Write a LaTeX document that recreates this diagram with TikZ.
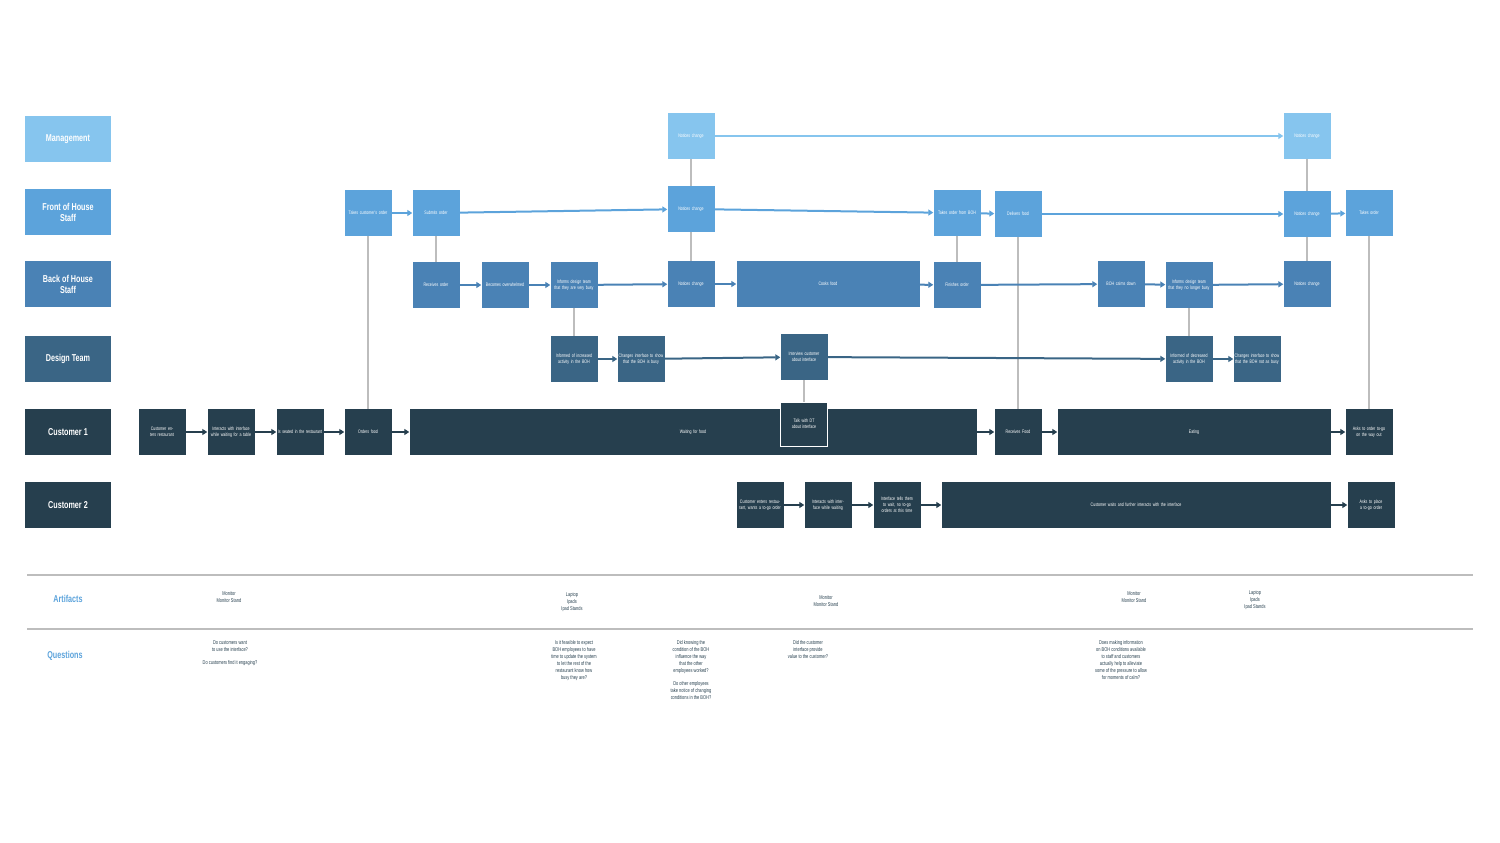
\documentclass[tikz,border=0pt]{standalone}
\usepackage{fontspec}
\setmainfont{Liberation Sans}[FakeStretch=0.72]
\usetikzlibrary{arrows.meta}
\definecolor{cM}{HTML}{86C5EE}
\definecolor{cF}{HTML}{5CA3DB}
\definecolor{cB}{HTML}{4A82B5}
\definecolor{cD}{HTML}{3A6585}
\definecolor{cC}{HTML}{263F4E}
\definecolor{cG}{HTML}{BDBDBD}
\begin{document}
\begin{tikzpicture}[x=1pt,y=-1pt,
 lab/.style={minimum width=86pt,minimum height=46pt,inner sep=1pt,align=center,text=white,font=\fontsize{10}{11}\selectfont\bfseries},
 b/.style={minimum width=47pt,minimum height=46pt,inner sep=1pt,text width=45pt,align=center,text=white,font=\fontsize{5}{6}\selectfont},
 M/.style={b,fill=cM}, F/.style={b,fill=cF}, B/.style={b,fill=cB}, D/.style={b,fill=cD}, C/.style={b,fill=cC},
 ar/.style={line width=2pt,-{Triangle[length=5pt,width=6pt]}},
 g/.style={cG,line width=2pt},
 sec/.style={text=cF,font=\fontsize{10}{11}\selectfont\bfseries},
 note/.style={align=center,text=cC,font=\fontsize{5.5}{7}\selectfont}]
\useasboundingbox (0,0) rectangle (1500,843);
% lane labels
\node[lab,fill=cM] (lM) at (68,139) {Management};
\node[lab,fill=cF] (lF) at (68,212) {Front of House\\Staff};
\node[lab,fill=cB] (lB) at (68,284) {Back of House\\Staff};
\node[lab,fill=cD] (lD) at (68,359) {Design Team};
\node[lab,fill=cC] (lC1) at (68,432) {Customer 1};
\node[lab,fill=cC] (lC2) at (68,505) {Customer 2};
% gray links (behind)
\coordinate (gA) at (368,213); \coordinate (gA2) at (368,432);
\draw[g] (gA) -- (gA2);
\draw[g] (436,213) -- (436,285);
\draw[g] (691,136) -- (691,284);
\draw[g] (574,285) -- (574,359);
\draw[g] (957,213) -- (957,285);
\draw[g] (1018,214) -- (1018,432);
\draw[g] (804,357) -- (804,424);
\draw[g] (1189,285) -- (1189,359);
\draw[g] (1307,136) -- (1307,284);
\draw[g] (1369,213) -- (1369,432);
% management
\node[M] (m1) at (691,136) {Notices change};
\node[M] (m2) at (1307,136) {Notices change};
% FOH
\node[F] (f1) at (368,213) {Takes customer's order};
\node[F] (f2) at (436,213) {Submits order};
\node[F] (f3) at (691,209) {Notices change};
\node[F] (f4) at (957,213) {Takes order from BOH};
\node[F] (f5) at (1018,214) {Delivers food};
\node[F] (f6) at (1307,214) {Notices change};
\node[F] (f7) at (1369,213) {Takes order};
% BOH
\node[B] (b1) at (436,285) {Receives order};
\node[B] (b2) at (505,285) {Becomes overwhelmed};
\node[B] (b3) at (574,285) {Informs design team that they are very busy};
\node[B] (b4) at (691,284) {Notices change};
\node[B,minimum width=183pt,text width=180pt] (b5) at (828,284) {Cooks food};
\node[B] (b6) at (957,285) {Finishes order};
\node[B] (b7) at (1121,284) {BOH calms down};
\node[B] (b8) at (1189,285) {Informs design team that they no longer busy};
\node[B] (b9) at (1307,284) {Notices change};
% Design
\node[D] (d1) at (574,359) {Informed of increased activity in the BOH};
\node[D] (d2) at (641,359) {Changes interface to show that the BOH is busy};
\node[D] (d3) at (804,357) {Interview customer about interface};
\node[D] (d4) at (1189,359) {Informed of decreased activity in the BOH};
\node[D] (d5) at (1257,359) {Changes interface to show that the BOH not as busy};
% Customer 1
\node[C] (c1) at (162,432) {Customer enters restaurant};
\node[C] (c2) at (231,432) {Interacts with interface while waiting for a table};
\node[C] (c3) at (300,432) {Is seated in the restaurant};
\node[C] (c4) at (368,432) {Orders food};
\node[C,minimum width=567pt,text width=560pt] (c5) at (693,432) {Waiting for food};
\node[C,draw=white,line width=1pt,minimum width=46pt,minimum height=44pt] (c6) at (804,424) {Talk with DT about interface};
\node[C] (c7) at (1018,432) {Receives Food};
\node[C,minimum width=273pt,text width=270pt] (c8) at (1194,432) {Eating};
\node[C] (c9) at (1369,432) {Asks to order to-go on the way out};
% Customer 2
\node[C] (e1) at (760,505) {Customer enters restaurant, wants a to-go order};
\node[C] (e2) at (828,505) {Interacts with interface while waiting};
\node[C] (e3) at (897,505) {Interface tells them to wait, no to-go orders at this time};
\node[C,minimum width=389pt,text width=380pt] (e4) at (1136,505) {Customer waits and further interacts with the interface};
\node[C] (e5) at (1371,505) {Asks to place a to-go order};
% arrows
\draw[ar,cM] (m1) -- (m2);
\draw[ar,cF] (f1) -- (f2);
\draw[ar,cF] (f2) -- (f3);
\draw[ar,cF] (f3) -- (f4);
\draw[ar,cF] (f4) -- (f5);
\draw[ar,cF] (f5) -- (f6);
\draw[ar,cF] (f6) -- (f7);
\draw[ar,cB] (b1) -- (b2);
\draw[ar,cB] (b2) -- (b3);
\draw[ar,cB] (b3) -- (b4);
\draw[ar,cB] (b4) -- (b5);
\draw[ar,cB] (b5) -- (b6);
\draw[ar,cB] (b6) -- (b7);
\draw[ar,cB] (b7) -- (b8);
\draw[ar,cB] (b8) -- (b9);
\draw[ar,cD] (d1) -- (d2);
\draw[ar,cD] (d2) -- (d3);
\draw[ar,cD] (d3) -- (d4);
\draw[ar,cD] (d4) -- (d5);
\draw[ar,cC] (c1) -- (c2);
\draw[ar,cC] (c2) -- (c3);
\draw[ar,cC] (c3) -- (c4);
\draw[ar,cC] (c4) -- (c5);
\draw[ar,cC] (c5) -- (c7);
\draw[ar,cC] (c7) -- (c8);
\draw[ar,cC] (c8) -- (c9);
\draw[ar,cC] (e1) -- (e2);
\draw[ar,cC] (e2) -- (e3);
\draw[ar,cC] (e3) -- (e4);
\draw[ar,cC] (e4) -- (e5);
% separators
\draw[cG,line width=2.5pt] (27,575) -- (1473,575);
\draw[cG,line width=2.5pt] (27,629) -- (1473,629);
\node[sec] (art) at (68,599) {Artifacts};
\node[sec] (que) at (65,656) {Questions};
\node[note] (a1) at (229,597) {Monitor\\Monitor Stand};
\node[note] (a2) at (572,602) {Laptop\\Ipads\\Ipad Stands};
\node[note] (a3) at (826,601) {Monitor\\Monitor Stand};
\node[note] (a4) at (1134,597) {Monitor\\Monitor Stand};
\node[note] (a5) at (1255,600) {Laptop\\Ipads\\Ipad Stands};
\node[note,anchor=north] (q1) at (230,637) {Do customers want\\to use the interface?\\[6pt]Do customers find it engaging?};
\node[note,anchor=north] (q2) at (574,637) {Is it feasible to expect\\BOH employees to have\\time to update the system\\to let the rest of the\\restaurant know how\\busy they are?};
\node[note,anchor=north] (q3) at (691,637) {Did knowing the\\condition of the BOH\\influence the way\\that the other\\employees worked?\\[6pt]Do other employees\\take notice of changing\\conditions in the BOH?};
\node[note,anchor=north] (q4) at (808,637) {Did the customer\\interface provide\\value to the customer?};
\node[note,anchor=north] (q5) at (1121,637) {Does making information\\on BOH conditions available\\to staff and customers\\actually help to alleviate\\some of the pressure to allow\\for moments of calm?};
\end{tikzpicture}
\end{document}
